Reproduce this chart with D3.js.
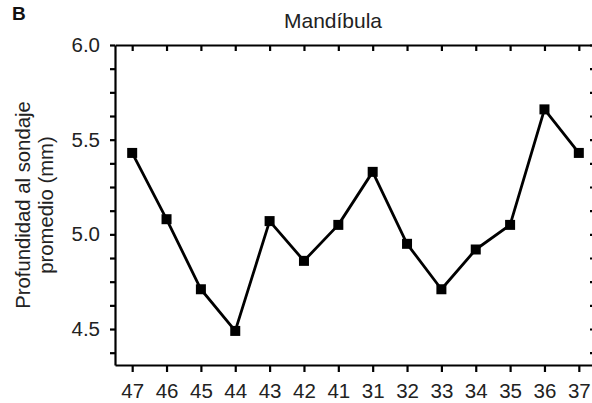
<!DOCTYPE html>
<html>
<head>
<meta charset="utf-8">
<script src="https://cdn.jsdelivr.net/npm/d3@7"></script>
<style>
  html, body { margin: 0; padding: 0; background: #fff; }
  svg { display: block; font-family: "Liberation Sans", Arial, Helvetica, sans-serif; }
  .axis path, .axis line { stroke: #000; stroke-width: 2.2; }
  .axis text { fill: #222; font-size: 20.5px; }
</style>
</head>
<body>
<div id="chart"></div>
<script>
(function drawChart() {
    const teeth = ["47", "46", "45", "44", "43", "42", "41", "31", "32", "33", "34", "35", "36", "37"];
    const depth = [5.43, 5.08, 4.71, 4.49, 5.07, 4.86, 5.05, 5.33, 4.95, 4.71, 4.92, 5.05, 5.66, 5.43];
    const yTicks = [4.375, 4.5, 4.625, 4.75, 4.875, 5.0, 5.125, 5.25, 5.375, 5.5, 5.625, 5.75, 5.875, 6.0];
    const yLabels = [4.5, 5.0, 5.5, 6.0];

    const width = 592;
    const height = 403;
    const plotL = 115, plotR = 596, plotT = 45, plotB = 365;

    const svg = d3.select("#chart").append("svg")
        .attr("width", width)
        .attr("height", height);

    const x = d3.scalePoint().domain(teeth).range([plotL, plotR]).padding(0.5);
    const y = d3.scaleLinear().domain([4.31, 6.0]).range([plotB, plotT]);

    const fmt = d => yLabels.includes(d) ? d3.format(".1f")(d) : "";

    // bottom and top
    svg.append("g")
        .attr("class", "axis")
        .attr("transform", `translate(0,${plotB})`)
        .call(d3.axisBottom(x).tickSizeInner(7).tickSizeOuter(0).tickPadding(11.5));

    svg.append("g")
        .attr("class", "axis")
        .attr("transform", `translate(0,${plotT})`)
        .call(d3.axisTop(x).tickSizeInner(-6).tickSizeOuter(0).tickFormat(""));

    // left and right
    svg.append("g")
        .attr("class", "axis")
        .attr("transform", `translate(${plotL},0)`)
        .call(d3.axisLeft(y).tickValues(yTicks).tickFormat(fmt).tickSizeInner(5).tickSizeOuter(0).tickPadding(10));

    svg.append("g")
        .attr("class", "axis")
        .attr("transform", `translate(${plotR},0)`)
        .call(d3.axisRight(y).tickValues(yTicks).tickFormat("").tickSizeInner(-6).tickSizeOuter(0));

    // series
    const line = d3.line()
        .x((d, i) => x(teeth[i]))
        .y(d => y(d));

    svg.append("path")
        .datum(depth)
        .attr("fill", "none")
        .attr("stroke", "#000")
        .attr("stroke-width", 2.8)
        .attr("stroke-linejoin", "round")
        .attr("d", line);

    const ms = 10;
    svg.selectAll("rect.marker")
        .data(depth)
        .enter()
        .append("rect")
        .attr("class", "marker")
        .attr("x", (d, i) => x(teeth[i]) - ms / 2)
        .attr("y", d => y(d) - ms / 2)
        .attr("width", ms)
        .attr("height", ms)
        .attr("fill", "#000");

    // titles
    svg.append("text")
        .attr("x", 333)
        .attr("y", 28)
        .attr("text-anchor", "middle")
        .attr("font-size", 21)
        .attr("fill", "#222")
        .text("Mandíbula");

    svg.append("text")
        .attr("x", 12)
        .attr("y", 20)
        .attr("font-size", 19)
        .attr("font-weight", "bold")
        .attr("fill", "#111")
        .text("B");

    const yl = svg.append("text")
        .attr("transform", `translate(30,${(plotT + plotB) / 2}) rotate(-90)`)
        .attr("text-anchor", "middle")
        .attr("font-size", 20.3)
        .attr("fill", "#222");
    yl.append("tspan").attr("x", 0).attr("y", 0).text("Profundidad al sondaje");
    yl.append("tspan").attr("x", 0).attr("y", 23).text("promedio (mm)");
}());
</script>
</body>
</html>
